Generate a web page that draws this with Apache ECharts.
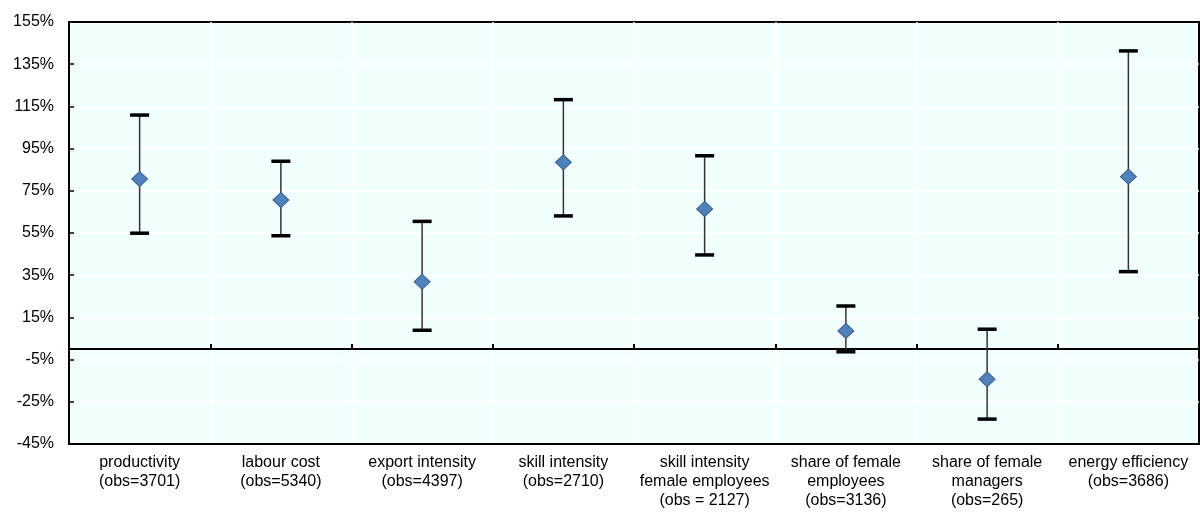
<!DOCTYPE html>
<html>
<head>
<meta charset="utf-8">
<script src="https://cdn.jsdelivr.net/npm/echarts@6/dist/echarts.min.js"></script>
<style>html,body{margin:0;padding:0;background:#fff;}#c{width:1200px;height:513px;}</style>
</head>
<body>
<div id="c"></div>
<script>
var categories = [
  'productivity\n(obs=3701)',
  'labour cost\n(obs=5340)',
  'export intensity\n(obs=4397)',
  'skill intensity\n(obs=2710)',
  'skill intensity\nfemale employees\n(obs = 2127)',
  'share of female\nemployees\n(obs=3136)',
  'share of female\nmanagers\n(obs=265)',
  'energy efficiency\n(obs=3686)'
];
var lowValues = [54.9, 53.7, 8.9, 63.1, 44.6, -1.3, -33.2, 36.7];
var midValues = [80.6, 70.6, 31.9, 88.5, 66.4, 8.6, -14.3, 81.7];
var highValues = [110.9, 89.0, 60.5, 118.2, 91.6, 20.4, 9.4, 141.3];
var yTicks = [-45, -25, -5, 15, 35, 55, 75, 95, 115, 135, 155];

var errData = categories.map(function (c, i) { return [i, lowValues[i], highValues[i]]; });
var midData = categories.map(function (c, i) { return [i, midValues[i]]; });

var chart = echarts.init(document.getElementById('c'));
var font = 'Liberation Sans, Arial, sans-serif';
chart.setOption({
  animation: false,
  grid: {
    left: 69, top: 22, right: 1, bottom: 69,
    show: true, backgroundColor: '#F2FFFF', borderColor: '#000', borderWidth: 2
  },
  xAxis: [{
    type: 'category', data: categories, boundaryGap: true, position: 'bottom',
    axisLine: { onZero: false, lineStyle: { color: '#000', width: 2 } },
    axisTick: { show: false },
    axisLabel: { color: '#000', fontFamily: font, fontSize: 16, lineHeight: 19, margin: 9, interval: 0 },
    splitLine: { show: true, showMinLine: false, showMaxLine: false, lineStyle: { color: '#ffffff', width: 1.5 } }
  }, {
    type: 'category', data: categories, boundaryGap: true, position: 'top',
    axisLine: { onZero: true, lineStyle: { color: '#000', width: 2 } },
    axisTick: { show: true, inside: false, length: 5, lineStyle: { color: '#000', width: 2 } },
    axisLabel: { show: false },
    splitLine: { show: false }
  }],
  yAxis: {
    type: 'value', min: yTicks[0], max: yTicks[yTicks.length - 1], interval: 20,
    axisLine: { show: true, lineStyle: { color: '#000', width: 2 } },
    axisTick: { show: true, inside: true, length: 5, lineStyle: { color: '#000', width: 1.5 } },
    axisLabel: { color: '#000', fontFamily: font, fontSize: 16, margin: 15, formatter: function (v) { return Math.round(v) + '%'; } },
    splitLine: { show: true, showMinLine: false, showMaxLine: false, lineStyle: { color: '#ffffff', width: 1.5 } }
  },
  series: [{
    type: 'custom',
    xAxisIndex: 0, yAxisIndex: 0,
    data: errData,
    renderItem: function (params, api) {
      var x = api.value(0);
      var lo = api.coord([x, api.value(1)]);
      var hi = api.coord([x, api.value(2)]);
      var hw = 9.5;
      return {
        type: 'group',
        children: [
          { type: 'line', shape: { x1: lo[0], y1: lo[1], x2: hi[0], y2: hi[1] }, style: { stroke: '#333', lineWidth: 1.5 } },
          { type: 'line', shape: { x1: lo[0] - hw, y1: lo[1], x2: lo[0] + hw, y2: lo[1] }, style: { stroke: '#000', lineWidth: 3.5 } },
          { type: 'line', shape: { x1: hi[0] - hw, y1: hi[1], x2: hi[0] + hw, y2: hi[1] }, style: { stroke: '#000', lineWidth: 3.5 } }
        ]
      };
    },
    z: 3
  }, {
    type: 'scatter',
    xAxisIndex: 0, yAxisIndex: 0,
    data: midData,
    symbol: 'diamond',
    symbolSize: [16, 15],
    itemStyle: { color: '#4F81BD', borderColor: '#3C5F86', borderWidth: 1, opacity: 1 },
    z: 4
  }]
});
</script>
</body>
</html>
